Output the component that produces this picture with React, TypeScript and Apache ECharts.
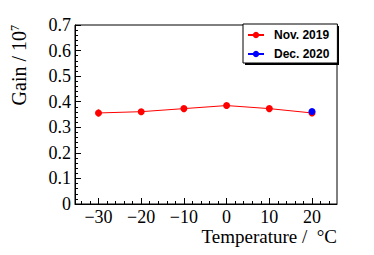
import React, { useEffect, useRef } from "react";
import * as echarts from "echarts";

const temperatures = [-30, -20, -10, 0, 10, 20];
const gainNov2019 = [0.356, 0.361, 0.373, 0.385, 0.373, 0.356];
const errNov2019 = [0.014, 0.008, 0.008, 0.008, 0.008, 0.012];
const temperaturesDec2020 = [20];
const gainDec2020 = [0.362];
const xMajorTicks = [-30, -20, -10, 0, 10, 20];
const xMinorTicks = [-34, -32, -28, -26, -24, -22, -18, -16, -14, -12, -8, -6, -4, -2, 2, 4, 6, 8, 12, 14, 16, 18, 22, 24];
const seriesNames = ["Nov. 2019", "Dec. 2020"];

const SERIF = '"Liberation Serif", "Times New Roman", serif';
const SANS = '"Liberation Sans", Arial, sans-serif';

export default function App() {
  const ref = useRef<HTMLDivElement>(null);
  useEffect(() => {
    document.body.style.margin = "0";
    if (!ref.current) return;
    const chart = echarts.init(ref.current, undefined, { renderer: "svg" });
    const fmtX = (v: number) => (v < 0 ? "\u2212" + String(-v) : String(v));
    chart.setOption({
      animation: false,
      grid: {
        left: 75,
        top: 25,
        right: 37,
        bottom: 51,
        show: true,
        borderColor: "#000",
        borderWidth: 1,
        backgroundColor: "transparent",
      },
      legend: {
        data: seriesNames,
        orient: "vertical",
        left: 243,
        top: 24,
        padding: [4, 8, 2, 4],
        itemGap: 5,
        itemWidth: 16,
        itemHeight: 8,
        backgroundColor: "#fff",
        borderColor: "#000",
        borderWidth: 1,
        selectedMode: false,
        textStyle: {
          fontFamily: SANS,
          fontWeight: "bold",
          fontSize: 12,
          color: "#000",
          lineHeight: 14,
          padding: [0, 0, 0, 5],
        },
        z: 10,
      },
      xAxis: [
        {
          type: "value",
          min: -35.5,
          max: 25.85,
          position: "bottom",
          axisLine: { show: true, onZero: false, lineStyle: { color: "#000", width: 1 } },
          axisTick: {
            show: true,
            inside: true,
            length: 6,
            customValues: xMajorTicks,
            lineStyle: { color: "#000", width: 1 },
          },
          axisLabel: {
            customValues: xMajorTicks,
            formatter: fmtX,
            fontFamily: SERIF,
            fontSize: 18,
            lineHeight: 16,
            color: "#000",
            margin: 5,
          },
          splitLine: { show: false },
        },
        {
          type: "value",
          min: -35.5,
          max: 25.85,
          position: "bottom",
          axisLine: { show: false, onZero: false },
          axisTick: {
            show: true,
            inside: true,
            length: 3,
            customValues: xMinorTicks,
            lineStyle: { color: "#000", width: 1 },
          },
          axisLabel: { show: false },
          splitLine: { show: false },
        },
      ],
      yAxis: {
        type: "value",
        min: 0,
        max: 0.7,
        interval: 0.1,
        axisLine: { show: true, onZero: false, lineStyle: { color: "#000", width: 1 } },
        axisTick: { show: true, inside: true, length: 6, lineStyle: { color: "#000", width: 1 } },
        minorTick: { show: true, splitNumber: 5, length: 3, lineStyle: { color: "#000", width: 1 } },
        axisLabel: {
          formatter: (v: number) => (v === 0 ? "0" : v.toFixed(1)),
          fontFamily: SERIF,
          fontSize: 18,
          color: "#000",
          margin: 4,
        },
        splitLine: { show: false },
        minorSplitLine: { show: false },
      },
      graphic: [
        {
          type: "rect",
          shape: { x: 245, y: 26, width: 94, height: 39 },
          style: { fill: "#000" },
          z: 5,
        },
        {
          type: "text",
          x: 337,
          y: 236,
          style: {
            text: "Temperature /  \u00B0C",
            font: `19px ${SERIF}`,
            fill: "#000",
            align: "right",
            verticalAlign: "middle",
          },
        },
        {
          type: "text",
          x: 19,
          y: 25,
          rotation: Math.PI / 2,
          style: {
            text: "Gain / 10{sup|7}",
            font: `20px ${SERIF}`,
            fill: "#000",
            align: "right",
            verticalAlign: "middle",
            rich: {
              sup: {
                fontSize: 12,
                fontFamily: SERIF,
                fill: "#000",
                verticalAlign: "top",
                lineHeight: 20,
                padding: [0, 0, 6, 0],
              },
            },
          },
        },
      ],
      series: [
        {
          type: "custom",
          name: "errNov",
          xAxisIndex: 0,
          yAxisIndex: 0,
          data: temperatures.map((t, i) => [t, gainNov2019[i], errNov2019[i]]),
          renderItem: (params: any, api: any) => {
            const x = api.value(0);
            const y = api.value(1);
            const e = api.value(2);
            const p1 = api.coord([x, y + e]);
            const p2 = api.coord([x, y - e]);
            return {
              type: "line",
              shape: { x1: p1[0], y1: p1[1], x2: p2[0], y2: p2[1] },
              style: { stroke: "#ff0000", lineWidth: 1.5 },
            };
          },
          z: 2,
        },
        {
          type: "line",
          name: seriesNames[0],
          xAxisIndex: 0,
          yAxisIndex: 0,
          data: temperatures.map((t, i) => [t, gainNov2019[i]]),
          symbol: "circle",
          symbolSize: 7,
          showSymbol: true,
          color: "#ff0000",
          itemStyle: { color: "#ff0000" },
          lineStyle: { color: "#ff0000", width: 1 },
          z: 3,
        },
        {
          type: "line",
          name: seriesNames[1],
          xAxisIndex: 0,
          yAxisIndex: 0,
          data: temperaturesDec2020.map((t, i) => [t, gainDec2020[i]]),
          symbol: "circle",
          symbolSize: 7,
          showSymbol: true,
          color: "#0000ff",
          itemStyle: { color: "#0000ff" },
          lineStyle: { color: "#0000ff", width: 1 },
          z: 4,
        },
      ],
    });
    return () => chart.dispose();
  }, []);
  return (
    <div
      ref={ref}
      style={{ width: 374, height: 255, position: "absolute", left: 0, top: 0, background: "#fff" }}
    />
  );
}
